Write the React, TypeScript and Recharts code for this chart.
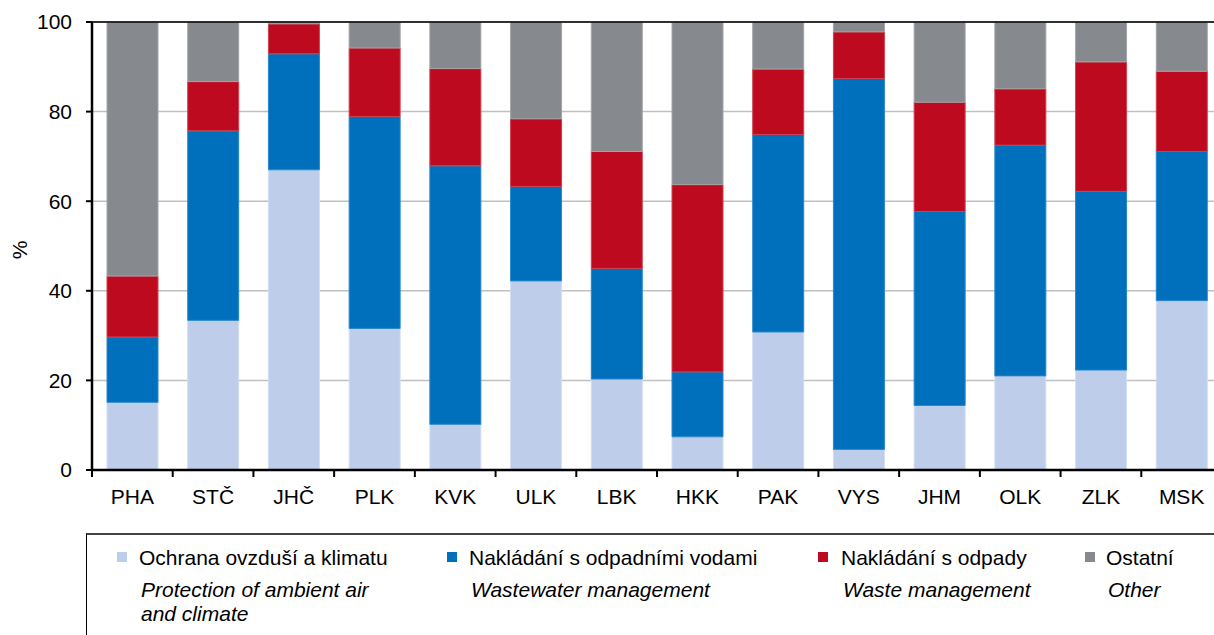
import React from 'react';
import {
  BarChart,
  Bar,
  XAxis,
  YAxis,
  CartesianGrid,
  ReferenceLine,
} from 'recharts';

const regions = ['PHA', 'STČ', 'JHČ', 'PLK', 'KVK', 'ULK', 'LBK', 'HKK', 'PAK', 'VYS', 'JHM', 'OLK', 'ZLK', 'MSK'];

// shares in % per region
const airClimate = [15.1, 33.4, 67.0, 31.6, 10.2, 42.2, 20.3, 7.4, 30.8, 4.6, 14.4, 21.0, 22.3, 37.8];
const wastewater = [14.6, 42.3, 25.9, 47.3, 57.7, 21.1, 24.7, 14.5, 44.1, 82.8, 43.3, 51.5, 39.9, 33.3];
const waste = [13.6, 11.0, 6.7, 15.3, 21.7, 15.1, 26.1, 41.8, 14.6, 10.4, 24.4, 12.6, 28.9, 17.9];
const other = [56.7, 13.3, 0.4, 5.8, 10.4, 21.6, 28.9, 36.3, 10.5, 2.2, 17.9, 14.9, 8.9, 11.0];

const yTicks = [0, 20, 40, 60, 80, 100];

const seriesKeys = ['air', 'water', 'waste', 'other'];
const czechNames = ['Ochrana ovzduší a klimatu', 'Nakládání s odpadními vodami', 'Nakládání s odpady', 'Ostatní'];
const englishNames = ['Protection of ambient air\nand climate', 'Wastewater management', 'Waste management', 'Other'];
const colors = ['#BDCDEA', '#0070BC', '#BD0A1F', '#86898D'];
const edgeColors = ['#D3DEF2', '#2A88CC', '#D0404F', '#A3A5A8'];

const data = regions.map((r, i) => ({
  region: r,
  air: airClimate[i],
  water: wastewater[i],
  waste: waste[i],
  other: other[i],
}));

const FONT = '"Liberation Sans", Arial, sans-serif';
const CHART_W = 1230;
const CHART_H = 530;
const MARGIN = { top: 22, right: 8, bottom: 10, left: 0 };
const Y_AXIS_W = 92;
const BAND = (CHART_W - MARGIN.left - MARGIN.right - Y_AXIS_W) / regions.length;

const RegionTick = (props: any) => {
  const { x, y, payload, index } = props;
  return (
    <g>
      <line x1={x - BAND / 2} x2={x - BAND / 2} y1={y} y2={y + 7} stroke="#000" strokeWidth={2} />
      {index === regions.length - 1 && (
        <line x1={x + BAND / 2} x2={x + BAND / 2} y1={y} y2={y + 7} stroke="#000" strokeWidth={2} />
      )}
      <text x={x} y={y + 34} textAnchor="middle" fontSize={21} fill="#000" fontFamily={FONT}>
        {payload.value}
      </text>
    </g>
  );
};

const legendMarkerX = [117, 447, 818, 1085];
const legendTextX = [139, 469, 841, 1106];

export default function App() {
  return (
    <div
      style={{
        position: 'absolute',
        left: 0,
        top: 0,
        width: 1214,
        height: 635,
        overflow: 'hidden',
        background: '#fff',
        fontFamily: FONT,
      }}
    >
      <BarChart width={CHART_W} height={CHART_H} data={data} margin={MARGIN} barSize={51}>
        <CartesianGrid vertical={false} stroke="#C0C0C0" strokeWidth={1.5} />
        <XAxis
          dataKey="region"
          interval={0}
          tickSize={0}
          tickMargin={0}
          tickLine={false}
          height={CHART_H - MARGIN.top - MARGIN.bottom - 448}
          axisLine={{ stroke: '#000', strokeWidth: 2.5 }}
          tick={<RegionTick />}
        />
        <YAxis
          width={Y_AXIS_W}
          domain={[0, 100]}
          ticks={yTicks}
          interval={0}
          tickSize={6}
          tickMargin={14}
          axisLine={{ stroke: '#000', strokeWidth: 2.5 }}
          tickLine={{ stroke: '#000', strokeWidth: 2 }}
          tick={{ fill: '#000', fontSize: 21, fontFamily: FONT }}
          label={{
            content: () => (
              <text
                x={26.5}
                y={250}
                transform="rotate(-90 26.5 250)"
                textAnchor="middle"
                fontSize={21}
                fill="#000"
                fontFamily={FONT}
              >
                %
              </text>
            ),
          }}
        />
        {seriesKeys.map((k, i) => (
          <Bar
            key={k}
            dataKey={k}
            stackId="a"
            fill={colors[i]}
            stroke={edgeColors[i]}
            strokeWidth={1}
            isAnimationActive={false}
          />
        ))}
        <ReferenceLine y={100} stroke="#000" strokeWidth={1.5} />
      </BarChart>

      <div
        style={{
          position: 'absolute',
          left: 86,
          top: 533,
          width: 1200,
          height: 200,
          borderLeft: '1px solid #000',
          borderTop: '2px solid #444',
          boxSizing: 'border-box',
        }}
      />
      {seriesKeys.map((k, i) => (
        <React.Fragment key={k}>
          <div
            style={{
              position: 'absolute',
              left: legendMarkerX[i],
              top: 552,
              width: 10,
              height: 10,
              background: colors[i],
            }}
          />
          <div
            style={{
              position: 'absolute',
              left: legendTextX[i],
              top: 546,
              fontSize: 21,
              lineHeight: '24px',
              color: '#000',
              whiteSpace: 'nowrap',
            }}
          >
            {czechNames[i]}
          </div>
          <div
            style={{
              position: 'absolute',
              left: legendTextX[i] + 2,
              top: 578,
              fontSize: 21,
              lineHeight: '24px',
              fontStyle: 'italic',
              color: '#000',
              whiteSpace: 'pre',
            }}
          >
            {englishNames[i]}
          </div>
        </React.Fragment>
      ))}
    </div>
  );
}
